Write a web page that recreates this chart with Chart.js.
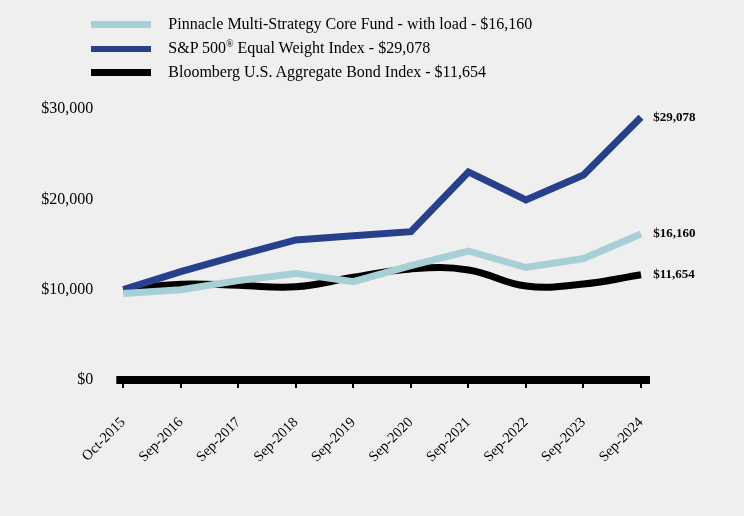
<!DOCTYPE html>
<html>
<head>
<meta charset="utf-8">
<script src="https://cdn.jsdelivr.net/npm/chart.js@4"></script>
<style>
  html, body { margin: 0; padding: 0; background: #efefef; }
  #wrap { position: relative; width: 744px; height: 516px; background: #efefef; }
  #legend { position: absolute; left: 0; top: 0; font-family: 'Times New Roman', 'Liberation Serif', serif; font-size: 16px; color: #000; }
  .row { position: absolute; left: 90.7px; height: 24px; white-space: nowrap; }
  .sw { position: absolute; left: 0; width: 60px; height: 6.5px; }
  .tx { position: absolute; left: 77.6px; line-height: 18px; }
  .tx sup { font-size: 10px; vertical-align: 0; position: relative; top: -6px; }
  canvas { position: absolute; left: 0; top: 0; }
</style>
</head>
<body>
<div id="wrap">
  <canvas id="c" width="744" height="516"></canvas>
  <div id="legend"></div>
</div>
<script>
const categories = ['Oct-2015','Sep-2016','Sep-2017','Sep-2018','Sep-2019','Sep-2020','Sep-2021','Sep-2022','Sep-2023','Sep-2024'];
const pinnacle  = [9575, 10000, 11000, 11800, 10880, 12650, 14280, 12450, 13450, 16160];
const sp500ew   = [10000, 12000, 13800, 15500, 15970, 16420, 23030, 19930, 22690, 29078];
const bloomberg = [10000, 10600, 10480, 10320, 11370, 12300, 12180, 10400, 10620, 11654];
const seriesLabels = ['Pinnacle Multi-Strategy Core Fund - with load - $16,160', 'S&P 500<sup>®</sup> Equal Weight Index - $29,078', 'Bloomberg U.S. Aggregate Bond Index - $11,654'];
const endLabels = ['$16,160', '$29,078', '$11,654'];
const yTicks = [0, 10000, 20000, 30000];

const colors = ['#a6d0d6', '#27408b', '#000000'];
const serif = "'Times New Roman', 'Liberation Serif', serif";

// HTML legend
const legend = document.getElementById('legend');
const rowCenters = [24.7, 49, 72.5];
seriesLabels.forEach((lab, i) => {
  const r = document.createElement('div');
  r.className = 'row';
  r.style.top = (rowCenters[i] - 12) + 'px';
  const sw = document.createElement('div');
  sw.className = 'sw';
  sw.style.background = colors[i];
  sw.style.top = (12 - 3.25) + 'px';
  const tx = document.createElement('div');
  tx.className = 'tx';
  tx.style.top = (12 - 10) + 'px';
  tx.innerHTML = lab;
  r.appendChild(sw); r.appendChild(tx);
  legend.appendChild(r);
});

const axisBar = {
  id: 'axisBar',
  afterDraw(chart) {
    const ctx = chart.ctx;
    const a = chart.chartArea;
    const y0 = chart.scales.y.getPixelForValue(0);
    ctx.save();
    ctx.fillStyle = '#000';
    ctx.fillRect(a.left - 7, y0 - 4, a.right - a.left + 16, 8);
    ctx.restore();
  }
};

const endLabelPlugin = {
  id: 'endLabels',
  afterDatasetsDraw(chart) {
    const ctx = chart.ctx;
    ctx.save();
    ctx.font = "bold 13px " + serif;
    ctx.fillStyle = '#000';
    ctx.textAlign = 'left';
    ctx.textBaseline = 'middle';
    chart.data.datasets.forEach((ds, i) => {
      const meta = chart.getDatasetMeta(i);
      const pt = meta.data[meta.data.length - 1];
      ctx.fillText(endLabels[i], pt.x + 12.3, pt.y);
    });
    ctx.restore();
  }
};

new Chart(document.getElementById('c'), {
  type: 'line',
  data: {
    labels: categories,
    datasets: [
      { label: 'Pinnacle', data: pinnacle, borderColor: colors[0], borderWidth: 7, pointRadius: 0, tension: 0, borderCapStyle: 'butt', borderJoinStyle: 'miter' },
      { label: 'S&P 500', data: sp500ew, borderColor: colors[1], borderWidth: 7, pointRadius: 0, tension: 0, borderCapStyle: 'butt', borderJoinStyle: 'miter' },
      { label: 'Bloomberg', data: bloomberg, borderColor: colors[2], borderWidth: 7, pointRadius: 0, tension: 0.4, borderCapStyle: 'butt' }
    ]
  },
  options: {
    responsive: false,
    animation: false,
    events: [],
    layout: { padding: { top: 109, right: 103, left: 0, bottom: 0 } },
    plugins: { legend: { display: false }, tooltip: { enabled: false } },
    scales: {
      x: {
        offset: false,
        grid: { display: true, drawOnChartArea: false, drawTicks: true, tickLength: 8, color: '#000', lineWidth: 2 },
        border: { display: false },
        ticks: { color: '#000', font: { family: serif, size: 14.5 }, minRotation: 45, maxRotation: 45, padding: 26, autoSkip: false },
        afterFit(s) { s.height = 136; }
      },
      y: {
        min: 0, max: 30000,
        afterBuildTicks(s) { s.ticks = yTicks.map(v => ({ value: v })); },
        grid: { display: false, drawTicks: false },
        border: { display: false },
        ticks: { color: '#000', font: { family: serif, size: 16 }, padding: 30,
          callback: v => '$' + Number(v).toLocaleString('en-US') },
        afterFit(s) { s.width = 123.3; }
      }
    }
  },
  plugins: [axisBar, endLabelPlugin]
});
</script>
</body>
</html>
